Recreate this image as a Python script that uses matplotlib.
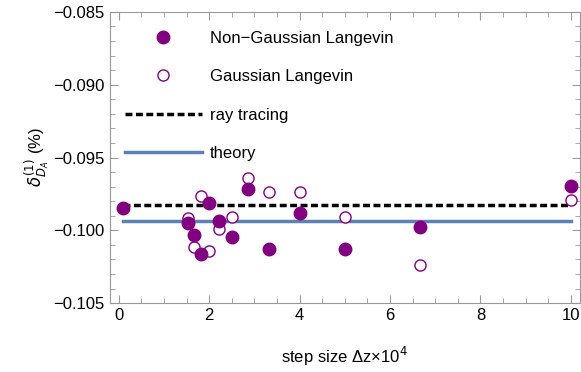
import numpy as np
import matplotlib
matplotlib.use("Agg")
from matplotlib import pyplot as plt
from matplotlib.ticker import MultipleLocator

plt.rcParams['font.family'] = ['Liberation Sans', 'DejaVu Sans']
plt.rcParams['mathtext.fontset'] = 'dejavusans'

# step sizes (x 10^4)
dz = [0.1, 1.54, 1.67, 1.82, 2.0, 2.22, 2.5, 2.86, 3.33, 4.0, 5.0, 6.67, 10.0]
non_gauss = [-0.09848, -0.09947, -0.10031, -0.10162, -0.09809, -0.09933, -0.10047,
             -0.09718, -0.10125, -0.09878, -0.10125, -0.09979, -0.09695]

dz_g = [1.54, 1.67, 1.82, 2.0, 2.22, 2.5, 2.86, 3.33, 4.0, 5.0, 6.67, 10.0]
gauss = [-0.09917, -0.10116, -0.09763, -0.10139, -0.09992, -0.09905, -0.09638,
         -0.0974, -0.09736, -0.09905, -0.10235, -0.09791]

ray_tracing = -0.09825
theory = -0.09933
line_x = [0.1, 10.0]

purple = '#800080'
blue = '#5e81b5'
grey = '#999999'

fig = plt.figure(figsize=(5.81, 3.72), dpi=100)
ax = fig.add_axes([0.189, 0.185, 0.809, 0.783])

ax.plot(line_x, [ray_tracing] * 2, color='black', ls=(0, (2, 1.0)), lw=2.5, label='ray tracing', zorder=2)
ax.plot(line_x, [theory] * 2, color=blue, lw=2.5, label='theory', zorder=2)
ax.plot(dz_g, gauss, 'o', ms=8, mfc='white', mec=purple, mew=1.0, ls='none',
        label='Gaussian Langevin', zorder=3)
ax.plot(dz, non_gauss, 'o', ms=9, color=purple, ls='none',
        label='Non\u2212Gaussian Langevin', zorder=4)

ax.set_xlim(-0.2, 10.2)
ax.set_ylim(-0.105, -0.085)
ax.xaxis.set_major_locator(MultipleLocator(2))
ax.xaxis.set_minor_locator(MultipleLocator(0.5))
ax.yaxis.set_major_locator(MultipleLocator(0.005))
ax.yaxis.set_minor_locator(MultipleLocator(0.001))
ax.yaxis.set_major_formatter(matplotlib.ticker.FuncFormatter(lambda v, p: ('%.3f' % v).replace('-', '\u2212')))

ax.tick_params(which='both', direction='in', top=True, right=True, color=grey, labelsize=12)
ax.tick_params(which='major', length=6)
ax.tick_params(which='minor', length=3.5)
for s in ax.spines.values():
    s.set_color(grey)

ax.set_xlabel('step size \u0394z\u00d710$^4$', fontsize=12, labelpad=16)
ax.set_ylabel('$\\delta^{(1)}_{D_A}$ (%)', fontsize=12, labelpad=2)

h, l = ax.get_legend_handles_labels()
order = [3, 2, 0, 1]
ax.legend([h[i] for i in order], [l[i] for i in order], loc='upper left',
          bbox_to_anchor=(0.032, 0.935), frameon=False, borderpad=0, borderaxespad=0,
          handlelength=4.6, handletextpad=0.5, labelspacing=1.4, fontsize=12)

fig.savefig('out.png', dpi=100)
